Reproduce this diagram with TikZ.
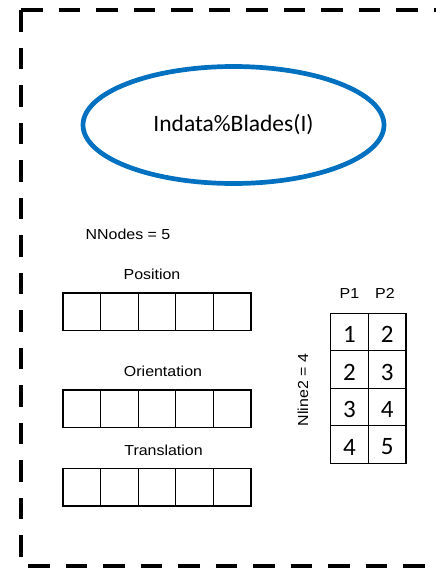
\documentclass[tikz,border=0pt]{standalone}
\usepackage{fontspec}
\usetikzlibrary{shapes.geometric}
\newfontfamily\arialw[FakeStretch=1.1]{Liberation Sans}
\newfontfamily\calib{Carlito}
\definecolor{ellblue}{HTML}{0070C0}
\tikzset{
  border/.style={line width=4.6pt, dash pattern=on 21.5pt off 16pt, line cap=butt},
  cell/.style={draw, line width=1.3pt, minimum width=37.6pt, minimum height=37.3pt, inner sep=0pt, outer sep=0pt},
  tcell/.style={draw, line width=1.3pt, minimum width=37.6pt, minimum height=37.5pt, inner sep=0pt, outer sep=0pt},
  digit/.style={inner sep=0pt, font=\calib\fontsize{25}{26}\selectfont},
  lbl/.style={inner sep=0pt, font=\arialw\fontsize{14.5}{15}\selectfont},
  ell/.style={ellipse, draw=ellblue, line width=4.7pt, minimum width=301pt, minimum height=117pt, inner sep=0pt, font=\calib\fontsize{23.5}{24}\selectfont}
}
\begin{document}
\begin{tikzpicture}[x=1pt,y=-1pt]
\useasboundingbox (0,0) rectangle (436,568);
% dashed frame
\coordinate (tl) at (21,10);
\coordinate (tr) at (445,10);
\coordinate (bl) at (21,566);
\coordinate (bls) at (28,566);
\coordinate (br) at (445,566);
\draw[border] (tl) -- (tr);
\draw[border] (tl) -- (bl);
\draw[border] (bls) -- (br);
% ellipse
\node[ell] (ell) at (233.5,125) {Indata\%Blades(I)};
% labels
\node[lbl] (nnodes) at (128,234) {NNodes = 5};
\node[lbl] (pos) at (152,274) {Position};
\node[lbl] (ori) at (163,371) {Orientation};
\node[lbl] (tra) at (163.5,450.5) {Translation};
% rows
\foreach \r/\y in {p/311.6, o/408.5, t/487.3} {
  \foreach \i in {0,...,4} {
    \node[cell] (\r\i) at ({63+37.6*(\i+0.5)},\y) {};
  }
}
% table
\node[lbl] (p1) at (349.5,293.3) {P1};
\node[lbl] (p2) at (385,293.3) {P2};
\foreach \k/\a/\b in {0/1/2, 1/2/3, 2/3/4, 3/4/5} {
  \node[tcell] (a\k) at (349.5,{332.05+37.5*\k}) {};
  \node[tcell] (b\k) at (387.1,{332.05+37.5*\k}) {};
  \node[digit] (da\k) at ([yshift=-2.5pt]a\k.center) {\a};
  \node[digit] (db\k) at ([yshift=-2.5pt]b\k.center) {\b};
}
\node[lbl, rotate=90] (nline) at (303,390) {Nline2 = 4};
\end{tikzpicture}
\end{document}
